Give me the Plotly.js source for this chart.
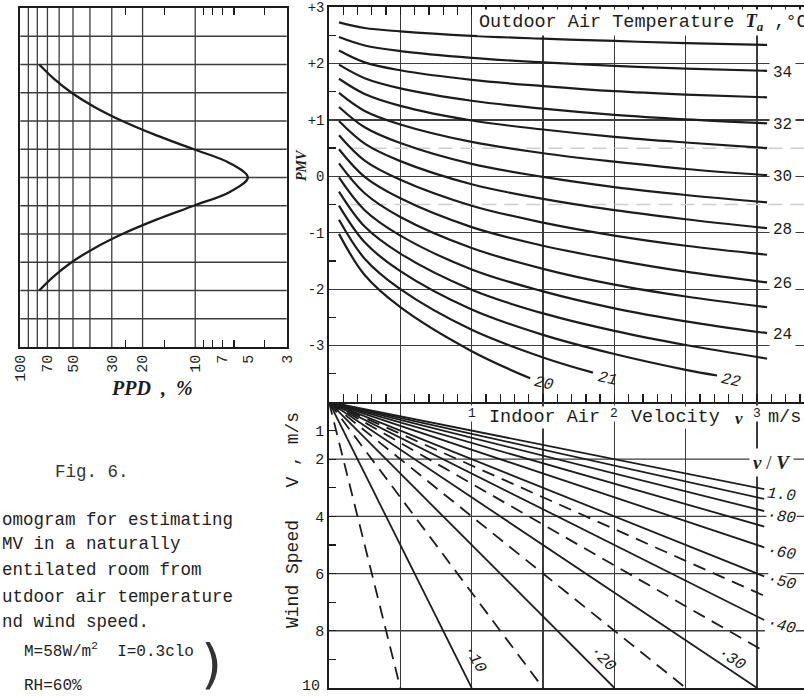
<!DOCTYPE html>
<html><head><meta charset="utf-8">
<script src="https://cdn.plot.ly/plotly-3.0.1.min.js"></script>
<style>html,body{margin:0;padding:0;background:#fff}</style>
</head><body><div id="chart" style="width:804px;height:697px"></div>
<script>
// ---------------- data ----------------
// PPD panel
const ppdPmv = [-2, -1.75, -1.5, -1.25, -1, -0.75, -0.5, -0.25, 0, 0.25, 0.5, 0.75, 1, 1.25, 1.5, 1.75, 2];
const ppdPct = [78, 64.4, 50.9, 37.7, 26.1, 16.8, 10.2, 6.3, 5.0, 6.3, 10.2, 16.8, 26.1, 37.7, 50.9, 64.4, 78];
const ppdTickVals = [100, 70, 50, 30, 20, 10, 7, 5, 3];
const ppdGridVals = [90, 80, 70, 60, 50, 40, 30, 20, 10];
const ppdGridPmv = [-2.5, -2, -1.5, -1, -0.5, 0, 0.5, 1, 1.5, 2, 2.5];
const ppdMinorTicks = [25, 15, 9, 8, 7, 6, 4];

// PMV panel
const pmvTickVals = [-3, -2, -1, 0, 1, 2, 3];
const pmvTickText = ['-3', '-2', '-1', '0', '+1', '+2', '+3'];
const pmvMinorTicks = [-3.5, -2.5, -1.5, -0.5, 0.5, 1.5, 2.5];
const comfortBand = [-0.5, 0.5];
const vPts = [0.07, 0.25, 0.5, 1.0, 1.5, 2.0, 2.5, 3.07];
const T35 = [2.73, 2.63, 2.57, 2.49, 2.44, 2.40, 2.36, 2.33];
const T34 = [2.47, 2.32, 2.22, 2.10, 2.02, 1.96, 1.91, 1.87];
const T33 = [2.23, 2.02, 1.88, 1.71, 1.60, 1.51, 1.45, 1.40];
const T32 = [1.98, 1.74, 1.56, 1.34, 1.20, 1.09, 1.01, 0.94];
const T31 = [1.73, 1.46, 1.25, 0.99, 0.83, 0.70, 0.60, 0.50];
const T30 = [1.48, 1.16, 0.92, 0.61, 0.41, 0.26, 0.13, 0.02];
const T29 = [1.23, 0.87, 0.59, 0.22, -0.01, -0.19, -0.33, -0.46];
const T28 = [0.98, 0.58, 0.27, -0.14, -0.40, -0.60, -0.76, -0.92];
const T27 = [0.73, 0.28, -0.06, -0.52, -0.82, -1.05, -1.23, -1.39];
const T26 = [0.48, -0.01, -0.39, -0.90, -1.23, -1.48, -1.69, -1.88];
const T25 = [0.23, -0.30, -0.72, -1.27, -1.64, -1.92, -2.13, -2.32];
const T24 = [-0.02, -0.60, -1.05, -1.65, -2.04, -2.34, -2.57, -2.78];
const T23 = [-0.27, -0.89, -1.37, -2.01, -2.43, -2.74, -2.99, -3.23];
const v22 = [0.07, 0.25, 0.5, 1.0, 1.5, 2.0, 2.5, 2.72];
const T22 = [-0.52, -1.17, -1.68, -2.36, -2.81, -3.15, -3.43, -3.53];
const v21 = [0.07, 0.25, 0.5, 1.0, 1.5, 1.85];
const T21 = [-0.77, -1.46, -2.00, -2.72, -3.21, -3.48];
const v20 = [0.07, 0.25, 0.5, 1.0, 1.41];
const T20 = [-1.02, -1.75, -2.32, -3.10, -3.58];
const tempsRightLabeled = [34, 32, 30, 28, 26, 24];
const tempsBottomLabeled = [20, 21, 22];

// Velocity panel
const velocityTicks = [1, 2, 3];
const windTicks = [1, 2, 4, 6, 8];
const windBottomLabel = 10;
const windGrid = [2, 4, 6, 8];
const windMinor = [3, 5, 7, 9];
const ratiosSolid = [0.10, 0.20, 0.30, 0.40, 0.50, 0.60, 0.70, 0.80, 0.90, 1.0];
const ratiosDashed = [0.05, 0.15, 0.25, 0.35, 0.45];
const ratioLabelsRight = [1.0, 0.80, 0.60, 0.50, 0.40];
const ratioTextRight = ['1.0', '·80', '·60', '·50', '·40'];
const ratioLabelsBottom = [0.10, 0.20, 0.30];
const ratioTextBottom = ['·10', '·20', '·30'];

// ---------------- layout helpers ----------------
const W = 804, H = 697;
const px = x => x / W, py = y => 1 - y / H;
const mono = 'Liberation Mono, Courier New, monospace';
const serif = 'Liberation Serif, Times New Roman, serif';
const ink = '#1c1c1c', gridInk = '#3c3c3c', clear = 'rgba(0,0,0,0)';
const vMax = (804 - 329) / 142.7;   // velocity axis extent to the page edge
const vEnd = 3.05;                  // where the ratio lines stop on the right
const windMax = 10;
const eps = 0.002;

const pmvCurves = [
  [35, vPts, T35], [34, vPts, T34], [33, vPts, T33], [32, vPts, T32],
  [31, vPts, T31], [30, vPts, T30], [29, vPts, T29], [28, vPts, T28],
  [27, vPts, T27], [26, vPts, T26], [25, vPts, T25], [24, vPts, T24],
  [23, vPts, T23], [22, v22, T22], [21, v21, T21], [20, v20, T20]
];

const traces = [];

// PPD grid lines
{
  const gx = [], gy = [];
  ppdGridVals.forEach(g => { gx.push(g, g, null); gy.push(-3, 3, null); });
  ppdGridPmv.forEach(g => { gx.push(100, 3, null); gy.push(g, g, null); });
  traces.push({x: gx, y: gy, xaxis: 'x', yaxis: 'y', mode: 'lines',
    line: {color: gridInk, width: 1.3}, hoverinfo: 'skip'});
}
// PPD curve
traces.push({x: ppdPct, y: ppdPmv, xaxis: 'x', yaxis: 'y', mode: 'lines',
  line: {color: ink, width: 2.3, shape: 'spline', smoothing: 1}, hoverinfo: 'skip'});

// comfort band faint dashed lines
comfortBand.forEach(b => traces.push({x: [0.15, vMax], y: [b, b], xaxis: 'x3', yaxis: 'y3',
  mode: 'lines', line: {color: '#cdcdcd', width: 1.5, dash: '14px,8px'}, hoverinfo: 'skip'}));

// PMV curves
pmvCurves.forEach(([t, xs, ys]) => traces.push({x: xs, y: ys, xaxis: 'x3', yaxis: 'y3',
  mode: 'lines', line: {color: ink, width: 2.2, shape: 'spline', smoothing: 1}, hoverinfo: 'skip'}));

// wind speed grid lines
{
  const gx = [], gy = [];
  windGrid.forEach(g => { gx.push(0, vMax, null); gy.push(g, g, null); });
  traces.push({x: gx, y: gy, xaxis: 'x4', yaxis: 'y4', mode: 'lines',
    line: {color: gridInk, width: 1.3}, hoverinfo: 'skip'});
}
// ratio lines
function rays(list) {
  const xs = [], ys = [];
  list.forEach(r => {
    const vAtBottom = r * windMax;
    const endV = vAtBottom <= vEnd ? vAtBottom : vEnd;
    xs.push(0, endV, null); ys.push(0, endV / r, null);
  });
  return {xs, ys};
}
{
  const s = rays(ratiosSolid), d = rays(ratiosDashed);
  traces.push({x: s.xs, y: s.ys, xaxis: 'x4', yaxis: 'y4', mode: 'lines',
    line: {color: ink, width: 1.8}, hoverinfo: 'skip'});
  traces.push({x: d.xs, y: d.ys, xaxis: 'x4', yaxis: 'y4', mode: 'lines',
    line: {color: ink, width: 1.8, dash: '13px,8px'}, hoverinfo: 'skip'});
}

// ---------------- annotations ----------------
const ann = [];
function A(text, x, y, o) {
  ann.push(Object.assign({text, x: px(x), y: py(y), xref: 'paper', yref: 'paper',
    xanchor: 'center', yanchor: 'middle',
    showarrow: false, font: {family: mono, size: 16, color: ink}}, o || {}));
}
// PPD title
A('<b><i>PPD\u00a0\u00a0,\u00a0\u00a0%</i></b>', 152, 388, {font: {family: serif, size: 20, color: ink}});
// PMV label
A('<b><i>PMV</i></b>', 302, 165, {textangle: -90, font: {family: serif, size: 14, color: ink}});
// Outdoor temperature title
A('Outdoor Air Temperature <span style="font-family:Liberation Serif"><b><i>T<sub>a</sub></i></b></span> ,°C',
  477, 22, {xanchor: 'left', bgcolor: '#ffffff', font: {family: mono, size: 18.5, color: ink}});

// temperature labels at curve ends (right side)
tempsRightLabeled.forEach(t => {
  const c = pmvCurves.find(cc => cc[0] === t);
  ann.push({text: String(t), x: 3.18, y: c[2][c[2].length - 1], xref: 'x3', yref: 'y3',
    xanchor: 'center', yanchor: 'middle',
    showarrow: false, bgcolor: '#ffffff', borderpad: 3, yshift: -2,
    font: {family: mono, size: 16, color: ink}});
});
// temperature labels at curve ends (bottom)
tempsBottomLabeled.forEach(t => {
  const c = pmvCurves.find(cc => cc[0] === t);
  ann.push({text: '<i>' + t + '</i>', x: c[1][c[1].length - 1], y: c[2][c[2].length - 1],
    xref: 'x3', yref: 'y3', xanchor: 'center', yanchor: 'middle',
    showarrow: false, xshift: 14, yshift: -6, textangle: 12,
    font: {family: mono, size: 16, color: ink}});
});

// velocity axis header
velocityTicks.forEach(v => ann.push({text: String(v), x: v, y: py(413), xref: 'x4', yref: 'paper',
  xanchor: 'center', yanchor: 'middle',
  showarrow: false, bgcolor: '#ffffff', borderpad: 0, font: {family: mono, size: 13, color: ink}}));
A('Indoor Air', 544, 417, {bgcolor: '#ffffff', borderpad: 0, font: {family: mono, size: 18.5, color: ink}});
A('Velocity', 675, 417, {bgcolor: '#ffffff', borderpad: 0, font: {family: mono, size: 18.5, color: ink}});
A('<b><i>v</i></b>', 739, 418, {font: {family: serif, size: 17, color: ink}});
A('m/s', 767, 417, {xanchor: 'left', bgcolor: '#ffffff', borderpad: 0, font: {family: mono, size: 18.5, color: ink}});
A('<b><i>v</i></b>\u00a0/\u00a0<b><i>V</i></b>', 771, 462,
  {bgcolor: '#ffffff', borderpad: 3, font: {family: serif, size: 19, color: ink}});

// bottom wind speed label (end of axis)
ann.push({text: String(windBottomLabel), x: px(322), y: windBottomLabel, xref: 'paper', yref: 'y4',
  xanchor: 'right', yanchor: 'middle', yshift: 1, showarrow: false,
  font: {family: mono, size: 15, color: ink}});

// ratio labels
ratioLabelsRight.forEach((r, i) => ann.push({text: '<i>' + ratioTextRight[i] + '</i>', x: 3.17, y: vEnd / r,
  xref: 'x4', yref: 'y4', xanchor: 'center', yanchor: 'middle',
  showarrow: false, yshift: -6, textangle: [6, 7, 10, 14, 14][i],
  bgcolor: '#ffffff', borderpad: 0, font: {family: mono, size: 16, color: ink}}));
ratioLabelsBottom.forEach((r, i) => ann.push({text: '<i>' + ratioTextBottom[i] + '</i>', x: r * 9, y: 9,
  xref: 'x4', yref: 'y4', xanchor: 'center', yanchor: 'middle',
  showarrow: false, xshift: 17, textangle: [60, 45, 33][i],
  font: {family: mono, size: 16, color: ink}}));

// wind speed axis title
A('Wind Speed\u00a0\u00a0\u00a0V , m/s', 293, 520, {textangle: -90, font: {family: mono, size: 18, color: ink}});

// left caption
A('Fig. 6.', 92, 472, {font: {family: mono, size: 17.5, color: '#333'}});
const captionLines = ['omogram for estimating', 'MV in a naturally', 'entilated room from',
  'utdoor air temperature', 'nd wind speed.'];
const captionY = [520, 544, 570, 597, 622];
captionLines.forEach((s, i) => A(s, 0, captionY[i], {xanchor: 'left', font: {family: mono, size: 17.5, color: '#222'}}));
A('M=58W/m<sup>2</sup>\u00a0\u00a0I=0.3clo', 22, 650, {xanchor: 'left', font: {family: mono, size: 16, color: '#222'}});
A('RH=60%', 22, 686, {xanchor: 'left', font: {family: mono, size: 16, color: '#222'}});
A(')', 211, 664, {font: {family: 'DejaVu Sans, sans-serif', size: 54, color: '#333'}});

// ---------------- layout ----------------
const axBase = {zeroline: false, showline: true, linecolor: ink, linewidth: 1.7,
  gridcolor: gridInk, gridwidth: 1.3, fixedrange: true};
const layout = {
  width: W, height: H, margin: {l: 0, r: 0, t: 0, b: 0}, autosize: false,
  paper_bgcolor: '#fff', plot_bgcolor: 'rgba(0,0,0,0)', showlegend: false, hovermode: false,
  xaxis: Object.assign({}, axBase, {domain: [px(20), px(287)], anchor: 'y', type: 'log',
    range: [2 + eps, Math.log10(3) - eps], tickmode: 'array', tickvals: ppdTickVals, ticktext: ppdTickVals.map(String),
    tickangle: -90, ticks: 'inside', ticklen: 1, tickcolor: clear, showgrid: false, mirror: 'ticks',
    tickfont: {family: mono, size: 15, color: ink},
    minor: {tickmode: 'array', tickvals: ppdMinorTicks, ticks: 'inside', ticklen: 7,
      tickcolor: ink, tickwidth: 1.3, showgrid: false}}),
  yaxis: Object.assign({}, axBase, {domain: [py(347), py(8)], anchor: 'x', range: [-3, 3],
    showgrid: false, showticklabels: false, ticks: '', mirror: true}),
  xaxis3: Object.assign({}, axBase, {domain: [px(329), 1], anchor: 'y3', range: [0, vMax],
    tickmode: 'linear', tick0: 0, dtick: 0.5, showgrid: true, showticklabels: false,
    ticks: 'inside', ticklen: 8, tickcolor: ink, tickwidth: 1.3,
    mirror: 'ticks',
    minor: {tickmode: 'linear', tick0: 0, dtick: 0.1, ticks: 'inside', ticklen: 8,
      tickcolor: ink, tickwidth: 1.3, showgrid: false}}),
  yaxis3: Object.assign({}, axBase, {domain: [py(402), py(7)], anchor: 'x3', range: [-4, 3 + eps],
    tickmode: 'array', tickvals: pmvTickVals, ticktext: pmvTickText, showgrid: true,
    ticks: 'inside', ticklen: 1, tickcolor: clear,
    tickfont: {family: mono, size: 14, color: ink},
    minor: {tickmode: 'array', tickvals: pmvMinorTicks, ticks: 'inside', ticklen: 7,
      tickcolor: ink, tickwidth: 1.3, showgrid: false}}),
  xaxis4: Object.assign({}, axBase, {domain: [px(329), 1], anchor: 'y4', range: [0, vMax],
    tickmode: 'linear', tick0: 0, dtick: 0.5, showgrid: true, showticklabels: false, ticks: ''}),
  yaxis4: Object.assign({}, axBase, {domain: [py(688), py(402)], anchor: 'x4', range: [windMax + eps, 0],
    tickmode: 'array', tickvals: windTicks, ticktext: windTicks.map(String), showgrid: false,
    ticks: 'inside', ticklen: 7, tickcolor: ink, tickwidth: 1.3,
    tickfont: {family: mono, size: 15, color: ink},
    minor: {tickmode: 'array', tickvals: windMinor, ticks: 'inside', ticklen: 7,
      tickcolor: ink, tickwidth: 1.3, showgrid: false}}),
  annotations: ann
};

Plotly.newPlot('chart', traces, layout, {staticPlot: true, displayModeBar: false});
</script></body></html>
